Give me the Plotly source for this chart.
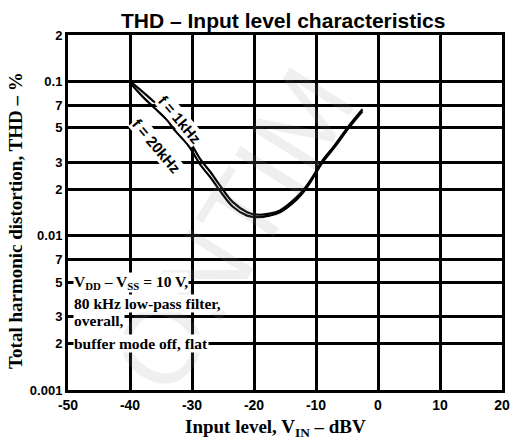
import math
import plotly.graph_objects as go

# Data
vin_1k = [-40, -38, -36, -34, -32.7, -30.5, -28.7, -27, -25.5, -23.4, -21.1, -19.5, -17.5, -15.8, -13.1, -11.8, -10.5, -9, -7, -4.7, -2.5]
thd_1k = [0.100, 0.086, 0.073, 0.061, 0.0525, 0.0415, 0.0315, 0.0258, 0.0212, 0.0165, 0.0142, 0.0137, 0.0139, 0.0146, 0.0178, 0.0203, 0.0242, 0.0305, 0.0385, 0.0515, 0.066]
vin_20k = [-40, -38, -36, -34, -32.7, -30.5, -28.7, -27, -25.5, -23.4, -21.1, -19.5, -17.5, -15.8, -13.1, -11.8, -10.5, -9, -7, -4.7, -2.5]
thd_20k = [0.098, 0.080, 0.067, 0.056, 0.0478, 0.0380, 0.0290, 0.0238, 0.0196, 0.0154, 0.0135, 0.0132, 0.0135, 0.0142, 0.0172, 0.0197, 0.0236, 0.0297, 0.0375, 0.050, 0.064]

x_ticks = [-50, -40, -30, -20, -10, 0, 10, 20]
x_tick_labels = ["-50", "-40", "-30", "-20", "-10", "0", "10", "20"]
y_ticks = [0.2, 0.1, 0.07, 0.05, 0.03, 0.02, 0.01, 0.007, 0.005, 0.003, 0.002, 0.001]
y_tick_labels = ["2", "0.1", "7", "5", "3", "2", "0.01", "7", "5", "3", "2", "0.001"]

fig = go.Figure()
fig.add_trace(go.Scatter(x=vin_1k, y=thd_1k, mode="lines", name="f = 1kHz",
                         line=dict(color="black", width=2.2, shape="spline", smoothing=1.0)))
fig.add_trace(go.Scatter(x=vin_20k, y=thd_20k, mode="lines", name="f = 20kHz",
                         line=dict(color="black", width=2.2, shape="spline", smoothing=1.0)))

serif = "Liberation Serif"
sans = "Liberation Sans"

fig.update_layout(
    width=514, height=441,
    margin=dict(l=68, r=12, t=35, b=51, autoexpand=False),
    paper_bgcolor="white", plot_bgcolor="white",
    showlegend=False,
    xaxis=dict(range=[-50, 20], tickvals=x_ticks, ticktext=x_tick_labels, automargin=False,
               showgrid=True, gridcolor="black", gridwidth=2.5,
               showline=True, linecolor="black", linewidth=3, mirror=True,
               zeroline=False, ticks="", ticklen=0,
               tickfont=dict(family=sans, size=14, color="black", weight="bold")),
    yaxis=dict(type="log", range=[-3, math.log10(0.2)], tickvals=y_ticks, ticktext=y_tick_labels,
               automargin=False,
               showgrid=True, gridcolor="black", gridwidth=2.5,
               showline=True, linecolor="black", linewidth=3, mirror=True,
               zeroline=False, ticks="", ticklen=0,
               tickfont=dict(family=sans, size=13, color="black", weight="bold")),
)

# watermark
fig.add_annotation(x=0.72, y=0.45, xref="paper", yref="paper", text="ONTIM", showarrow=False,
                   textangle=-58, font=dict(family=sans, size=110, color="rgba(150,150,150,0.15)"))

# title and axis titles
fig.add_annotation(x=0.495, y=1.0, xref="paper", yref="paper", xanchor="center", yanchor="bottom",
                   text="THD – Input level characteristics",
                   showarrow=False, yshift=1, font=dict(family=sans, size=21, color="black", weight="bold"))
fig.add_annotation(x=-0.12, y=0.479, xref="paper", yref="paper", xanchor="center", yanchor="middle",
                   text="Total harmonic distortion, THD – %",
                   showarrow=False, textangle=-90, font=dict(family=serif, size=19, color="black", weight="bold"))
fig.add_annotation(x=0.477, y=-0.107, xref="paper", yref="paper", xanchor="center", yanchor="middle",
                   text="Input level, V<sub>IN</sub> – dBV",
                   showarrow=False, font=dict(family=serif, size=19, color="black", weight="bold"))

# curve labels (log axis: annotation y given in log10 units)
fig.add_annotation(x=-32.0, y=math.log10(0.0565), text="f = 1kHz", showarrow=False, textangle=50,
                   bgcolor="white", borderpad=0,
                   font=dict(family=sans, size=15, color="black", weight="bold"))
fig.add_annotation(x=-35.8, y=math.log10(0.0385), text="f = 20kHz", showarrow=False, textangle=50,
                   bgcolor="white", borderpad=0,
                   font=dict(family=sans, size=15, color="black", weight="bold"))

# condition text
cond = ["V<sub>DD</sub> – V<sub>SS</sub> = 10 V,", "80 kHz low-pass filter,", "overall,", "buffer mode off, flat"]
cond_y = [0.00495, 0.00362, 0.00281, 0.0020]
for t, yy in zip(cond, cond_y):
    fig.add_annotation(x=-49.2, y=math.log10(yy), xanchor="left", yanchor="middle", text=t, showarrow=False,
                       bgcolor="white", borderpad=0,
                       font=dict(family=serif, size=15.5, color="black", weight="bold"))

fig.write_html("out.html", config={"displayModeBar": False},
               post_script="document.body.style.margin='0';document.body.style.overflow='hidden';")
